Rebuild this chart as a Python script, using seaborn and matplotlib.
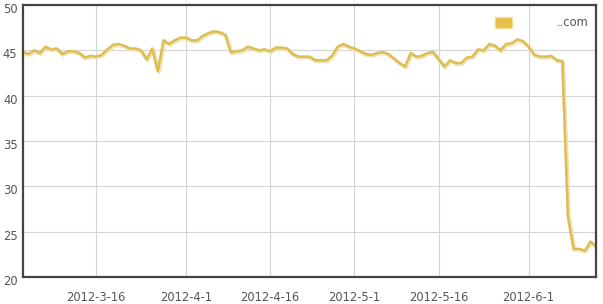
import numpy as np
import pandas as pd
import matplotlib
matplotlib.use("Agg")
import matplotlib.pyplot as plt
import matplotlib.patheffects as pe
import matplotlib.transforms as mtransforms
from matplotlib.patches import Patch
import seaborn as sns

# ---- data ----
start_date = "2012-03-03"
values = [
    44.8, 44.6, 45.0, 44.7, 45.4, 45.1, 45.2, 44.6, 44.9, 44.9,
    44.7, 44.2, 44.4, 44.3, 44.5, 45.1, 45.6, 45.7, 45.5, 45.2,
    45.2, 45.0, 44.0, 45.2, 42.7, 46.1, 45.7, 46.1, 46.4, 46.4,
    46.1, 46.1, 46.6, 46.9, 47.1, 47.0, 46.7, 44.8, 44.9, 45.0,
    45.4, 45.2, 45.0, 45.1, 44.9, 45.3, 45.3, 45.2, 44.6, 44.3,
    44.3, 44.3, 43.9, 43.9, 43.9, 44.4, 45.4, 45.7, 45.4, 45.2,
    44.9, 44.6, 44.5, 44.7, 44.8, 44.6, 44.1, 43.6, 43.2, 44.7,
    44.3, 44.4, 44.7, 44.8, 44.0, 43.2, 43.9, 43.6, 43.6, 44.2,
    44.3, 45.1, 45.0, 45.7, 45.5, 45.0, 45.7, 45.8, 46.2, 46.0,
    45.4, 44.5, 44.3, 44.3, 44.4, 43.9, 43.8, 26.7, 23.1, 23.1,
    22.9, 23.9, 23.4,
]
series_label = "..com"
x_tick_dates = ["2012-3-16", "2012-4-1", "2012-4-16", "2012-5-1", "2012-5-16", "2012-6-1"]
y_ticks = [20, 25, 30, 35, 40, 45, 50]

dates = pd.date_range(start_date, periods=len(values), freq="D")
df = pd.DataFrame({"date": dates, "value": values})

sns.set_theme(style="white")
plt.rcParams["font.family"] = ["DejaVu Sans"]

fig = plt.figure(figsize=(6.03, 3.04), dpi=100)
ax = fig.add_axes([23 / 603, 27 / 304, 573 / 603, 272 / 304])

line_color = "#DCBE55"
sns.lineplot(data=df, x="date", y="value", ax=ax, color=line_color, linewidth=1.8,
             label=series_label, legend=False,
             path_effects=[pe.SimpleLineShadow(offset=(0.7, -0.7), shadow_color="#EDE0AE", alpha=0.9, linewidth=2.8),
                           pe.Normal()])

ax.set_xlim(dates[0], dates[-1])
ax.set_ylim(20, 50)
ax.set_yticks(y_ticks)
xt = pd.to_datetime(x_tick_dates)
ax.set_xticks(xt)
ax.set_xticklabels(x_tick_dates)
ax.set_xlabel("")
ax.set_ylabel("")

ax.grid(True, color="#D4D4D4", linewidth=0.8)
ax.set_axisbelow(True)
for s in ax.spines.values():
    s.set_color("#444444")
    s.set_linewidth(1.6)

ax.tick_params(axis="both", length=0, labelsize=8.3, labelcolor="#555555")
ax.tick_params(axis="x", pad=10)
ax.tick_params(axis="y", pad=4)
offset = mtransforms.ScaledTranslation(0, -3 / 100, fig.dpi_scale_trans)
for lab in ax.get_yticklabels():
    lab.set_transform(lab.get_transform() + offset)

handle = Patch(facecolor="#E8BF47", edgecolor="#F1DFA0", linewidth=1.0)
leg = ax.legend([handle], [series_label], loc="upper right", frameon=False,
                fontsize=8.3, handlelength=1.5, handleheight=1.15, handletextpad=3.9,
                borderaxespad=0.0, bbox_to_anchor=(0.995, 0.975))
for t in leg.get_texts():
    t.set_color("#555555")

fig.savefig("out.png", dpi=100, facecolor="white")
